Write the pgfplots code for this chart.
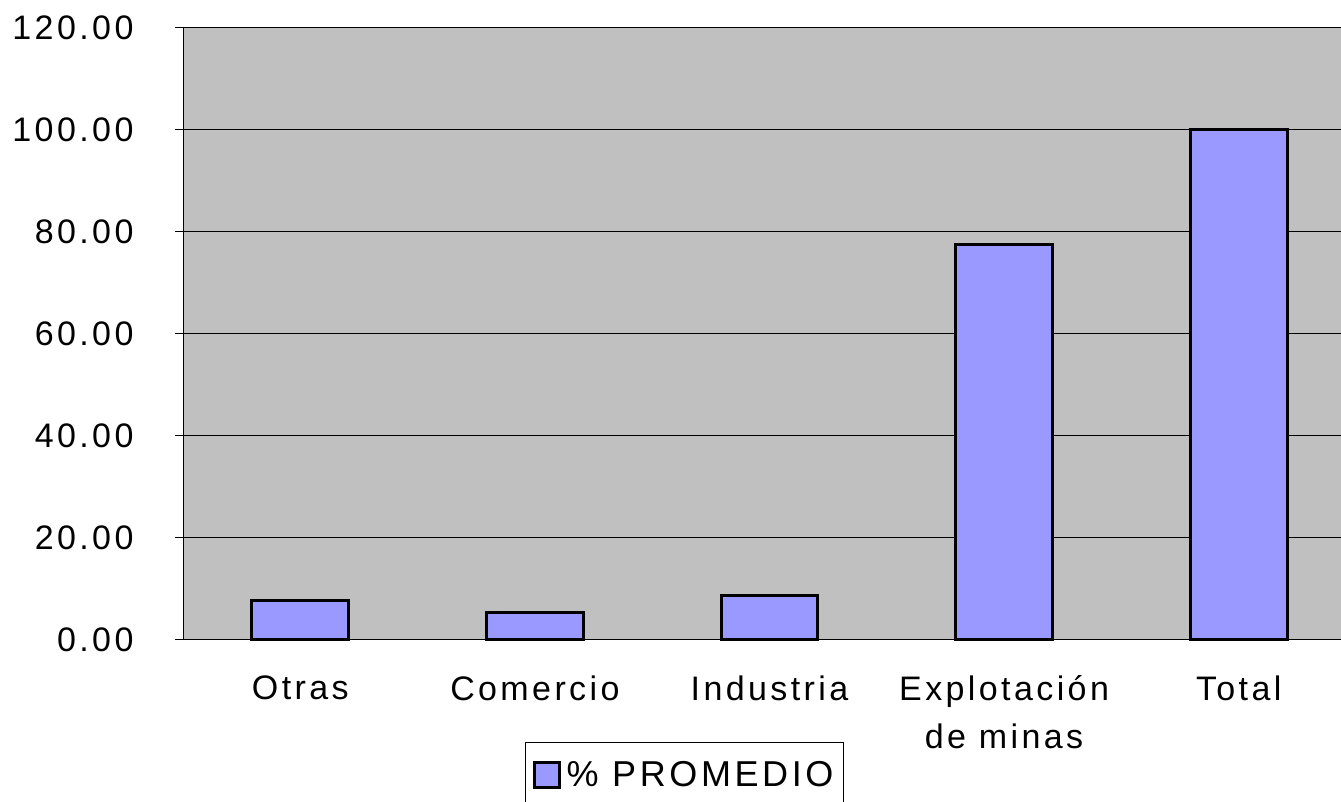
\documentclass[border=0pt]{standalone}
\usepackage{fontspec}
\setmainfont{Liberation Sans}[LetterSpace=10]
\usepackage{pgfplots}
\pgfplotsset{compat=1.18}
\definecolor{bargray}{HTML}{C0C0C0}
\definecolor{barblue}{HTML}{9999FF}
\begin{document}
\begin{tikzpicture}[x=1pt,y=1pt]
\begin{axis}[
  at={(183pt,162pt)}, anchor=south west,
  scale only axis, width=1158pt, height=612pt,
  xmin=-0.5, xmax=4.436, ymin=0, ymax=120,
  axis x line*=bottom, axis y line*=left,
  axis line style={black, line width=1pt},
  axis background/.style={fill=bargray},
  ytick={0,20,...,120},
  ymajorgrids, grid style={black, line width=1pt},
  major tick length=8pt,
  tick style={black, line width=1pt},
  tick align=outside,
  xtick={0,1,2,3,4},
  xticklabels={Otras,Comercio,Industria,{Explotación\\de minas},Total},
  xtick style={draw=none},
  minor xtick={-0.5,0.5,1.5,2.5,3.5},
  minor tick length=12pt,
  minor x tick style={black, line width=1pt},
  yticklabel={\pgfmathprintnumber[fixed,fixed zerofill,precision=2]{\tick}},
  /pgf/number format/assume math mode=true,
  ticklabel style={font=\fontsize{34}{48}\selectfont},
  xticklabel style={align=center, yshift=-24pt},
  yticklabel style={xshift=-38pt},
  legend style={at={(axis description cs:0.2953,-0.1667)}, anchor=north west,
    draw=black, line width=0.8pt, font=\fontsize{36}{40}\selectfont,
    inner xsep=8pt, inner ysep=17pt},
  legend image code/.code={\draw[fill=barblue, draw=black, line width=2.5pt] (0pt,-13pt) rectangle (25pt,12pt); \path[draw=none,fill=none] (0pt,0pt) -- (30pt,0pt);},
  clip=false,
]
\addplot[ybar, bar width=0.413, fill=barblue, draw=black, line width=3pt]
  coordinates {(0,7.65) (1,5.43) (2,8.82) (3,77.6) (4,100.0)};
\addlegendentry{\% PROMEDIO}
\end{axis}
\pgfresetboundingbox
\useasboundingbox (0,0) rectangle (1341,802);
\end{tikzpicture}
\end{document}
